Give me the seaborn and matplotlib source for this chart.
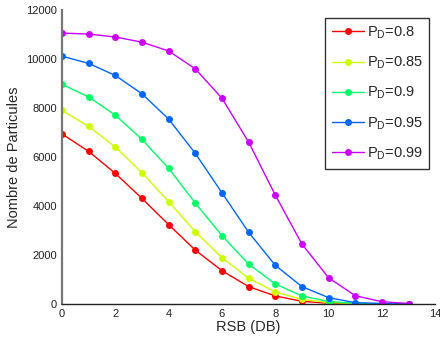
import numpy as np
import pandas as pd
import matplotlib
matplotlib.use("Agg")
import matplotlib.pyplot as plt
import seaborn as sns

# =========================
# DATA
# =========================
rsb = [0, 1, 2, 3, 4, 5, 6, 7, 8, 9, 10, 11, 12, 13]
pd_labels = ["0.8", "0.85", "0.9", "0.95", "0.99"]

n_080 = [6940, 6230, 5330, 4310, 3240, 2200, 1360, 710, 330, 110, 30, 10, 0, 0]
n_085 = [7900, 7250, 6410, 5360, 4180, 2950, 1890, 1050, 490, 190, 60, 15, 5, 0]
n_090 = [8970, 8450, 7710, 6720, 5540, 4120, 2790, 1630, 820, 330, 100, 30, 10, 0]
n_095 = [10120, 9820, 9330, 8580, 7550, 6150, 4540, 2930, 1580, 710, 260, 55, 20, 5]
n_099 = [11060, 11020, 10900, 10690, 10330, 9600, 8400, 6610, 4450, 2450, 1070, 340, 95, 20]

colors = ["#ff0000", "#ccff00", "#00ff66", "#0066ff", "#cc00ff"]

series = [n_080, n_085, n_090, n_095, n_099]
rows = []
for lab, vals in zip(pd_labels, series):
    for x, v in zip(rsb, vals):
        rows.append({"RSB": x, "N": v, "PD": "P$_{\\rm D}$=" + lab})
df = pd.DataFrame(rows)
hue_order = ["P$_{\\rm D}$=" + lab for lab in pd_labels]

# =========================
# STYLE
# =========================
sns.set_style("white")
plt.rcParams["font.family"] = ["Liberation Sans", "DejaVu Sans"]
plt.rcParams["mathtext.fontset"] = "custom"
plt.rcParams["mathtext.rm"] = "Liberation Sans"
plt.rcParams["mathtext.it"] = "Liberation Sans"

fig = plt.figure(figsize=(4.4, 3.41), dpi=100)
ax = fig.add_axes([0.141, 0.1085, 0.848, 0.862])

sns.lineplot(
    data=df, x="RSB", y="N", hue="PD", hue_order=hue_order,
    palette=colors, marker="o", markersize=5, markeredgewidth=0,
    linewidth=1, ax=ax
)

ax.set_xlim(0, 14)
ax.set_ylim(0, 12000)
ax.set_xticks(range(0, 15, 2))
ax.set_yticks(range(0, 12001, 2000))
ax.tick_params(direction="in", length=3, labelsize=8, width=0.8, colors="#222222")
ax.set_xlabel("RSB (DB)", fontsize=10.5, labelpad=1)
ax.set_ylabel("Nombre de Particules", fontsize=10.5, labelpad=4)

for side in ["top", "right"]:
    ax.spines[side].set_visible(False)
ax.spines["left"].set_color("#777777")
ax.spines["left"].set_linewidth(1.6)
ax.spines["bottom"].set_color("#222222")
ax.spines["bottom"].set_linewidth(1)

leg = ax.legend(
    loc="upper left", bbox_to_anchor=(0.705, 0.973), borderaxespad=0,
    fontsize=10.5, frameon=True, fancybox=False, edgecolor="black",
    handlelength=2.2, handletextpad=0.2, labelspacing=0.95, borderpad=0.45,
    title=None
)
leg.get_frame().set_linewidth(1)

fig.savefig("out.png", dpi=100)
